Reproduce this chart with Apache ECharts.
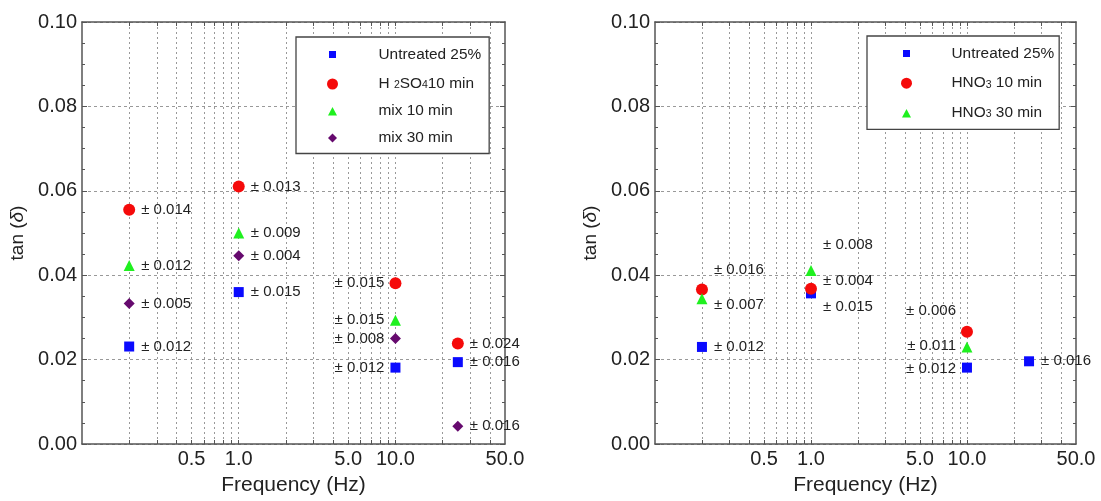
<!DOCTYPE html>
<html>
<head>
<meta charset="utf-8">
<script src="https://cdn.jsdelivr.net/npm/echarts@6/dist/echarts.min.js"></script>
<style>html,body{margin:0;padding:0;background:#fff}#c{width:1101px;height:501px}</style>
</head>
<body>
<div id="c"></div>
<script>
// ---------- data ----------
const freqs = [0.2, 1, 10, 25];
const xTickFreqs = [0.2,0.3,0.4,0.5,0.6,0.7,0.8,0.9,1,2,3,4,5,6,7,8,9,10,20,30,40];
const xLabelFreqs = [0.5, 1, 5, 10, 50];
const yTicks = [0, 0.02, 0.04, 0.06, 0.08, 0.10];

// left panel
const untreatedL = [0.0231, 0.0360, 0.0181, 0.0194];
const untreatedLErr = ['0.012', '0.015', '0.012', '0.016'];
const h2so4 = [0.0555, 0.0610, 0.0381, 0.0238];
const h2so4Err = ['0.014', '0.013', '0.015', '0.024'];
const mix10 = [0.0423, 0.0500, 0.0293];
const mix10Err = ['0.012', '0.009', '0.015'];
const mix30 = [0.0333, 0.0446, 0.0250, 0.0042];
const mix30Err = ['0.005', '0.004', '0.008', '0.016'];

// right panel
const untreatedR = [0.0230, 0.0357, 0.0181, 0.0196];
const untreatedRErr = ['0.012', '0.015', '0.012', '0.016'];
const hno3_10 = [0.0366, 0.0368, 0.0266];
const hno3_10Err = ['0.016', '0.004', '0.006'];
const hno3_30 = [0.0344, 0.0411, 0.0230];
const hno3_30Err = ['0.007', '0.008', '0.011'];

// ---------- styling ----------
const FONT = 'Liberation Sans';
const TXT = '#222';
const AX = '#555';
const C_BLUE = '#0a0aff', C_RED = '#f50a0a', C_GREEN = '#1ff01f', C_PURPLE = '#660a6e';

const lg = Math.log10;
const xMin = lg(0.1), xMax = lg(50);

function xAxes(g) {
  const common = {
    type: 'value', gridIndex: g, min: xMin, max: xMax,
    axisLine: { show: true, onZero: false, lineStyle: { color: AX, width: 1.5 } },
    axisTick: { show: true, inside: true, length: 4, customValues: xTickFreqs.map(lg), lineStyle: { color: AX } }
  };
  return [
    Object.assign({}, common, {
      position: 'bottom',
      name: 'Frequency (Hz)', nameLocation: 'middle', nameGap: 31,
      nameTextStyle: { fontSize: 21, color: TXT, fontFamily: FONT },
      axisLabel: { customValues: xLabelFreqs.map(lg), formatter: v => Math.pow(10, v).toFixed(1),
                   fontSize: 20, color: TXT, fontFamily: FONT, margin: 5 },
      splitLine: { show: true, lineStyle: { type: [2, 3], color: '#999', width: 1 } }
    }),
    Object.assign({}, common, {
      position: 'top', axisLabel: { show: false }, splitLine: { show: false }
    })
  ];
}

function yAxes(g) {
  const common = {
    type: 'value', gridIndex: g, min: yTicks[0], max: yTicks[yTicks.length - 1], interval: 0.02,
    axisLine: { show: true, onZero: false, lineStyle: { color: AX, width: 1.5 } },
    axisTick: { show: true, inside: true, length: 5, lineStyle: { color: AX } },
    minorTick: { show: true, splitNumber: 4, length: 3, lineStyle: { color: AX } }
  };
  return [
    Object.assign({}, common, {
      position: 'left',
      name: 'tan ({i|δ})', nameLocation: 'middle', nameGap: 55,
      nameTextStyle: { fontSize: 19, color: TXT, fontFamily: FONT,
        rich: { i: { fontStyle: 'italic', fontSize: 19, color: TXT, fontFamily: FONT } } },
      axisLabel: { formatter: v => v.toFixed(2), fontSize: 20, color: TXT, fontFamily: FONT, margin: 5 },
      splitLine: { show: true, lineStyle: { type: [3, 3], color: '#999', width: 1 } }
    }),
    Object.assign({}, common, {
      position: 'right', axisLabel: { show: false }, splitLine: { show: false }
    })
  ];
}

// label placement per point: [side, vertical offset]
function makeSeries(name, ys, errs, axisIdx, symbol, size, color, place) {
  return {
    type: 'scatter', name: name, xAxisIndex: axisIdx, yAxisIndex: axisIdx,
    symbol: symbol, symbolSize: size, itemStyle: { color: color, opacity: 1 },
    z: 3,
    data: ys.map((y, i) => ({
      value: [lg(freqs[i]), y],
      label: {
        show: true, position: place[i][0],
        distance: (place[i][0] === 'right' ? 12 : 11) - (Array.isArray(size) ? size[0] : size) / 2,
        offset: [0, place[i][1]],
        formatter: '± ' + errs[i],
        fontSize: 15, color: TXT, fontFamily: FONT
      }
    }))
  };
}

const R = 'right', L = 'left';
const SQ = 'rect', CI = 'circle', TR = 'triangle', DI = 'diamond';

const series = [
  makeSeries('Untreated 25%', untreatedL, untreatedLErr, 0, SQ, 10, C_BLUE, [[R,0],[R,0],[L,0],[R,0]]),
  makeSeries('H2SO4 10 min', h2so4, h2so4Err, 0, CI, 12, C_RED, [[R,0],[R,0],[L,0],[R,0]]),
  makeSeries('mix 10 min', mix10, mix10Err, 0, TR, 11, C_GREEN, [[R,0],[R,0],[L,0]]),
  makeSeries('mix 30 min', mix30, mix30Err, 0, DI, [11, 11], C_PURPLE, [[R,0],[R,0],[L,0],[R,0]]),
  makeSeries('Untreated 25%', untreatedR, untreatedRErr, 2, SQ, 10, C_BLUE, [[R,0],[R,14],[L,1],[R,0]]),
  makeSeries('HNO3 10 min', hno3_10, hno3_10Err, 2, CI, 12, C_RED, [[R,-20],[R,-8],[L,-21]]),
  makeSeries('HNO3 30 min', hno3_30, hno3_30Err, 2, TR, 11, C_GREEN, [[R,6],[R,-26],[L,-1]])
];

const legendNames = {
  'Untreated 25%': 'Untreated 25%',
  'H2SO4 10 min': 'H {s|2}SO{s|4}10 min',
  'mix 10 min': 'mix 10 min',
  'mix 30 min': 'mix 30 min',
  'HNO3 10 min': 'HNO{s|3} 10 min',
  'HNO3 30 min': 'HNO{s|3} 30 min'
};
const TRI_ICON = 'path://M0,0M11,11M5.5,1.5L10,10H1z';
const icons = {
  'Untreated 25%': 'path://M0,0M11,11M2,2h7v7h-7z',
  'H2SO4 10 min': 'circle', 'HNO3 10 min': 'circle',
  'mix 10 min': TRI_ICON, 'HNO3 30 min': TRI_ICON,
  'mix 30 min': 'path://M0,0M11,11M5.5,1L10,5.5L5.5,10L1,5.5z'
};

function legend(names, left, top, pad, textPad, gap) {
  return {
    orient: 'vertical', left: left, top: top, padding: pad, itemGap: gap,
    itemWidth: 20, itemHeight: 11,
    borderColor: '#444', borderWidth: 1.3, backgroundColor: '#fff',
    selectedMode: false,
    data: names.map(n => ({ name: n, icon: icons[n] })),
    formatter: n => legendNames[n],
    textStyle: {
      fontSize: 15.4, color: TXT, fontFamily: FONT, lineHeight: 14, padding: [0, 0, 0, textPad],
      rich: { s: { fontSize: 10.5, color: TXT, fontFamily: FONT, verticalAlign: 'bottom', lineHeight: 8, padding: [6, 0, 0, 0] } }
    }
  };
}

const option = {
  backgroundColor: '#fff',
  animation: false,
  grid: [
    { left: 82, right: 596, top: 22, bottom: 55 },
    { left: 655, right: 25, top: 22, bottom: 55 }
  ],
  xAxis: [].concat(xAxes(0), xAxes(1)),
  yAxis: [].concat(yAxes(0), yAxes(1)),
  legend: [
    legend(['Untreated 25%', 'H2SO4 10 min', 'mix 10 min', 'mix 30 min'], 296, 37, [10, 8, 8, 31], 31, 12.0),
    legend(['Untreated 25%', 'HNO3 10 min', 'HNO3 30 min'], 867, 36, [10, 5, 9, 34], 30, 12.2)
  ],
  series: series
};

const chart = echarts.init(document.getElementById('c'), null, { renderer: 'canvas' });
chart.setOption(option);
</script>
</body>
</html>
